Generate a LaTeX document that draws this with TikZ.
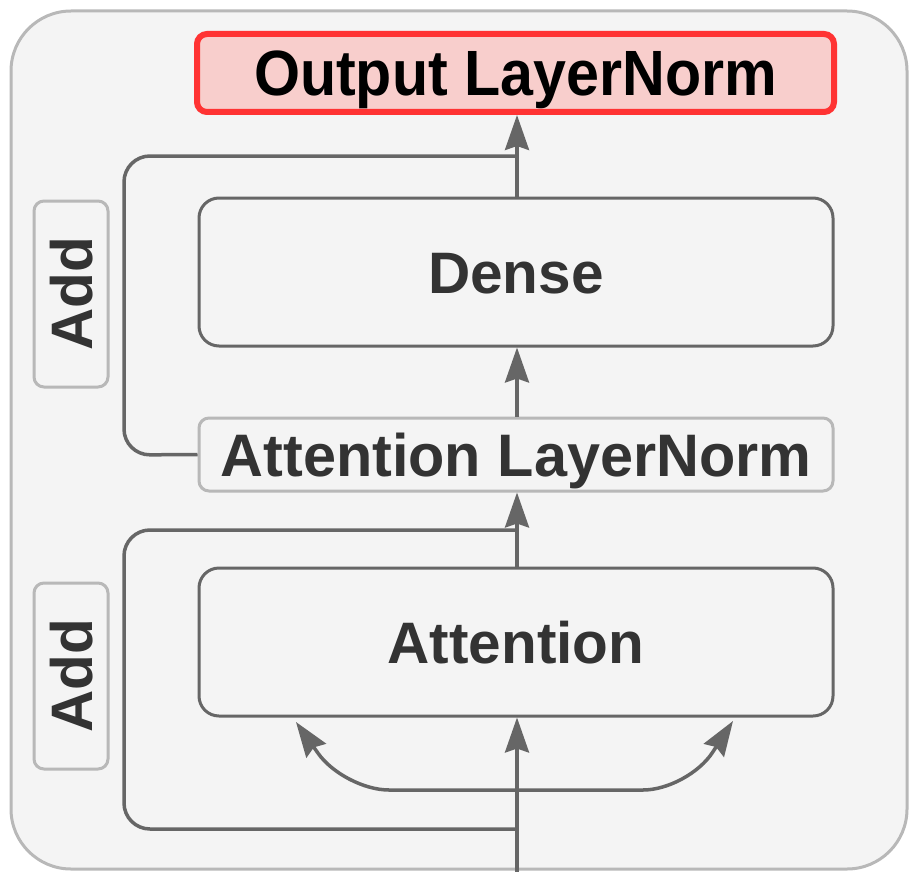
\documentclass[tikz,border=0pt]{standalone}
\usepackage{fontspec}
\setmainfont{Liberation Sans}
\usetikzlibrary{arrows.meta}
\definecolor{bgfill}{HTML}{F4F4F4}
\definecolor{framegray}{HTML}{B8B8B8}
\definecolor{linegray}{HTML}{666666}
\definecolor{txtdark}{HTML}{333333}
\definecolor{redline}{HTML}{FF3333}
\definecolor{redfill}{HTML}{F8CECC}
\tikzset{
  lbl/.style={font=\fontsize{58.5}{60}\selectfont\bfseries, text=txtdark, inner sep=0pt, text height=42pt, text depth=0pt, align=center},
  darkbox/.style={lbl, draw=linegray, line width=3pt, rounded corners=20pt, fill=bgfill},
  lightbox/.style={lbl, draw=framegray, line width=3pt, rounded corners=10pt, fill=bgfill},
  outbox/.style={lbl, font=\fontsize{64}{66}\selectfont\bfseries, text height=46pt, text=black, draw=redline, fill=redfill, line width=6pt, rounded corners=10pt},
  conn/.style={draw=linegray, line width=3.5pt},
  arr/.style={conn, -{Stealth[length=35pt, width=24pt, inset=4pt]}},
}
\begin{document}
\begin{tikzpicture}[x=1pt, y=-1pt]
\useasboundingbox (0,0) rectangle (915,872);
\draw[draw=framegray, fill=bgfill, line width=3pt, rounded corners=60pt] (11,11) rectangle (907,869);

\node[outbox, minimum width=637pt, minimum height=78pt] (out) at (515.5,73) {\scalebox{0.925}[1]{Output LayerNorm}};
\node[darkbox, minimum width=634pt, minimum height=148pt] (dense) at (516,272) {Dense};
\node[lightbox, font=\fontsize{60}{62}\selectfont\bfseries, text height=43pt, minimum width=634pt, minimum height=73pt] (aln) at (516,454.5) {\scalebox{0.99}[1]{Attention LayerNorm}};
\node[darkbox, minimum width=634pt, minimum height=148pt] (att) at (516,642) {Attention};
\node[lightbox, rotate=90, minimum width=186pt, minimum height=74pt] (add1) at (71,294) {Add};
\node[lightbox, rotate=90, minimum width=186pt, minimum height=74pt] (add2) at (71,676) {Add};

% coordinates
\coordinate (j1) at (517,156);
\coordinate (k1) at (124,156);
\coordinate (k2) at (124,455);
\coordinate (j2) at (517,530);
\coordinate (k3) at (124,530);
\coordinate (k4) at (124,829);
\coordinate (j3) at (517,829);
\coordinate (in) at (517,872);
\coordinate (sp) at (517,790);
\coordinate (cl) at (344,790);
\coordinate (tl) at (296,722);
\coordinate (cr) at (688,790);
\coordinate (tr) at (733,721);

% main arrows
\draw[arr] (dense.north -| j1) -- (out.south -| j1);
\draw[arr] (aln.north -| j1) -- (dense.south -| j1);
\draw[arr] (att.north -| j1) -- (aln.south -| j1);
\draw[arr] (in) -- (att.south -| in);

% residual paths
\draw[conn, rounded corners=26pt] (aln.west) -- (k2) -- (k1) -- (j1);
\draw[conn, rounded corners=26pt] (j3) -- (k4) -- (k3) -- (j2);

% split arrows
\draw[arr, rounded corners=45pt] (sp) -- (cl) -- (tl);
\draw[arr, rounded corners=45pt] (sp) -- (cr) -- (tr);
\end{tikzpicture}
\end{document}
